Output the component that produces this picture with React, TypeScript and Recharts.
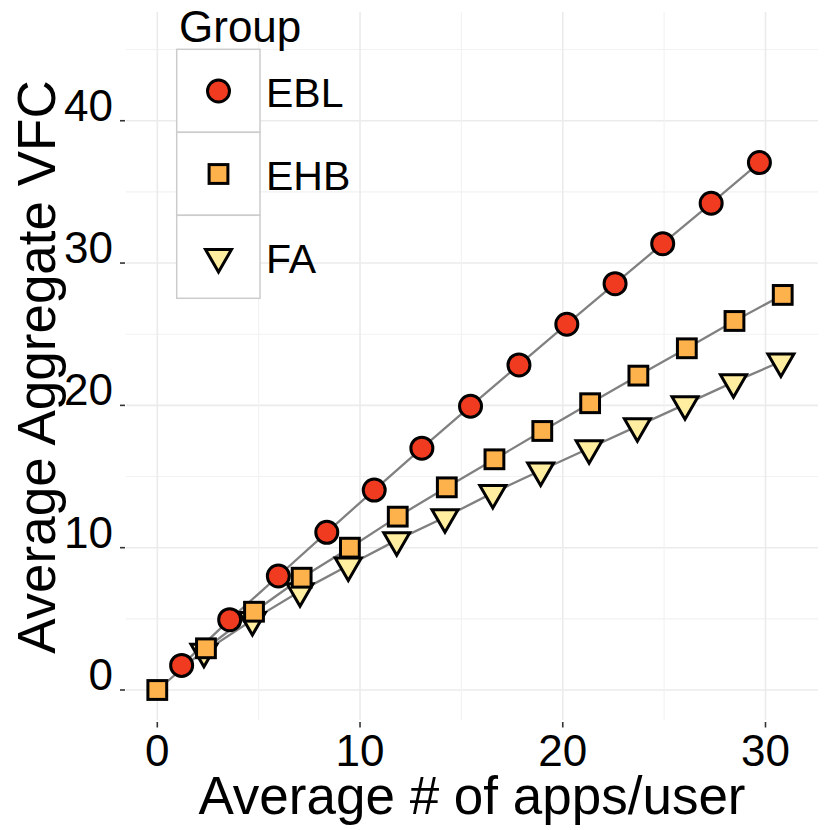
import React from "react";
import {
  ScatterChart,
  Scatter,
  XAxis,
  YAxis,
  CartesianGrid,
  Legend,
} from "recharts";

// data
const groups = ["EBL", "EHB", "FA"];
const fills = ["#F03B20", "#FEB24C", "#FFEDA0"];

const eblX = [1.2, 3.57, 5.97, 8.36, 10.7, 13.05, 15.45, 17.84, 20.2, 22.58, 24.93, 27.32, 29.7];
const eblY = [1.73, 4.94, 8.01, 11.08, 14.05, 16.99, 19.94, 22.84, 25.7, 28.55, 31.36, 34.2, 37.06];

const ehbX = [0, 2.4, 4.77, 7.12, 9.5, 11.86, 14.28, 16.63, 18.99, 21.35, 23.73, 26.12, 28.47, 30.85];
const ehbY = [0, 2.93, 5.5, 7.89, 10.0, 12.18, 14.24, 16.21, 18.2, 20.15, 22.09, 24.01, 25.93, 27.76];

const faX = [2.3, 4.69, 7.04, 9.42, 11.81, 14.19, 16.55, 18.91, 21.3, 23.68, 26.03, 28.42, 30.76];
const faY = [2.68, 4.92, 6.93, 8.75, 10.53, 12.14, 13.85, 15.42, 16.99, 18.54, 20.07, 21.63, 23.08];

const xTicks = [0, 5, 10, 15, 20, 25, 30];
const yTicks = [0, 5, 10, 15, 20, 25, 30, 35, 40, 45];
const xDomain = [-1.544, 32.59];
const yDomain = [-2.108, 47.64];

const toPoints = (xs: number[], ys: number[]) => xs.map((x, i) => ({ x, y: ys[i] }));
const ebl = toPoints(eblX, eblY);
const ehb = toPoints(ehbX, ehbY);
const fa = toPoints(faX, faY);

const FONT = "'Liberation Sans', Arial, sans-serif";
const LINE = "#808080";

const Circle = ({ cx, cy, fill }: any) => (
  <circle cx={cx} cy={cy} r={11} fill={fill} stroke="#000" strokeWidth={3} />
);
const Square = ({ cx, cy, fill }: any) => (
  <rect x={cx - 9.4} y={cy - 9.4} width={18.8} height={18.8} fill={fill} stroke="#000" strokeWidth={3} />
);
const Triangle = ({ cx, cy, fill }: any) => {
  const w = 26;
  const h = 22.5;
  const d = `M${cx - w / 2},${cy - h / 3}L${cx + w / 2},${cy - h / 3}L${cx},${cy + (2 * h) / 3}Z`;
  return <path d={d} fill={fill} stroke="#000" strokeWidth={3} strokeLinejoin="miter" />;
};
const shapes = [Circle, Square, Triangle];

const Nothing = () => <g />;

// grid line style: majors at multiples of 10, minors at 5s, nothing on the panel edges
const gridLine = (props: any) => {
  const { x1, y1, x2, y2, x, y, width, height } = props;
  const isHorizontal = y1 === y2;
  const v = isHorizontal
    ? yDomain[1] - ((y1 - y) / height) * (yDomain[1] - yDomain[0])
    : xDomain[0] + ((x1 - x) / width) * (xDomain[1] - xDomain[0]);
  const r = Math.round(v);
  if (Math.abs(v - r) > 0.2 || r % 5 !== 0) return <g key={props.key} />;
  const major = r % 10 === 0;
  return (
    <line
      key={props.key}
      x1={x1}
      y1={y1}
      x2={x2}
      y2={y2}
      stroke={major ? "#ebebeb" : "#f2f2f2"}
      strokeWidth={major ? 1.6 : 1.1}
    />
  );
};

const XTick = ({ x, y, payload }: any) => {
  if (payload.value % 10 !== 0) return <g />;
  return (
    <g>
      <line x1={x} y1={y + 2} x2={x} y2={y + 7.5} stroke="#333" strokeWidth={1.6} />
      <text x={x} y={y + 46} textAnchor="middle" fontSize={44} fontFamily={FONT} fill="#000">
        {payload.value}
      </text>
    </g>
  );
};

const YTick = ({ x, y, payload }: any) => {
  if (payload.value % 10 !== 0) return <g />;
  return (
    <g>
      <line x1={x - 6} y1={y} x2={x - 1} y2={y} stroke="#333" strokeWidth={1.6} />
      <text x={x - 13} y={y} textAnchor="end" fontSize={44} fontFamily={FONT} fill="#000">
        {payload.value}
      </text>
    </g>
  );
};

const XTitle = ({ viewBox }: any) => (
  <text
    x={viewBox.x + viewBox.width / 2}
    y={viewBox.y + viewBox.height - 16}
    textAnchor="middle"
    fontSize={53}
    fontFamily={FONT}
    fill="#000"
  >
    Average # of apps/user
  </text>
);

const YTitle = ({ viewBox }: any) => {
  const x = viewBox.x + 55;
  const y = viewBox.y + viewBox.height / 2 + 1;
  return (
    <text
      x={x}
      y={y}
      transform={`rotate(-90, ${x}, ${y})`}
      textAnchor="middle"
      fontSize={53}
      fontFamily={FONT}
      fill="#000"
    >
      Average Aggregate VFC
    </text>
  );
};

const GroupLegend = () => (
  <svg width={360} height={310} style={{ display: "block" }}>
    <text x={179} y={42} fontSize={44} fontFamily={FONT} fill="#000">
      Group
    </text>
    {groups.map((g, i) => {
      const Shape = shapes[i];
      const top = 49.3 + 83 * i;
      return (
        <g key={g}>
          <rect x={176.7} y={top} width={83.3} height={83} fill="#fff" stroke="#cccccc" strokeWidth={1.5} />
          <Shape cx={218.5} cy={top + 41.7} fill={fills[i]} />
          <text x={266} y={top + 57.7} fontSize={41} fontFamily={FONT} fill="#000">
            {g}
          </text>
        </g>
      );
    })}
  </svg>
);

export default function App() {
  return (
    <div style={{ position: "absolute", left: 0, top: 0, width: 830, height: 830, background: "#fff" }}>
      <ScatterChart width={830} height={830} margin={{ top: 12, right: 12, bottom: 0, left: 0 }}>
        <CartesianGrid horizontal={gridLine} vertical={gridLine} />
        <XAxis
          type="number"
          dataKey="x"
          domain={xDomain}
          allowDataOverflow
          ticks={xTicks}
          interval={0}
          height={110}
          axisLine={false}
          tickLine={false}
          tickSize={0}
          tickMargin={0}
          tick={<XTick />}
          label={{ content: <XTitle /> }}
        />
        <YAxis
          type="number"
          dataKey="y"
          domain={yDomain}
          allowDataOverflow
          ticks={yTicks}
          interval={0}
          width={126}
          axisLine={false}
          tickLine={false}
          tickSize={0}
          tickMargin={0}
          tick={<YTick />}
          label={{ content: <YTitle /> }}
        />
        <Legend
          layout="vertical"
          align="center"
          verticalAlign="middle"
          content={<GroupLegend />}
          wrapperStyle={{ position: "absolute", left: 0, top: 0, width: 360, height: 310 }}
        />
        {[ebl, ehb, fa].map((d, i) => (
          <Scatter
            key={`line-${groups[i]}`}
            data={d}
            line={{ stroke: LINE, strokeWidth: 2.3 }}
            shape={<Nothing />}
            legendType="none"
            isAnimationActive={false}
          />
        ))}
        <Scatter name="FA" data={fa} fill={fills[2]} shape={<Triangle />} isAnimationActive={false} />
        <Scatter name="EHB" data={ehb} fill={fills[1]} shape={<Square />} isAnimationActive={false} />
        <Scatter name="EBL" data={ebl} fill={fills[0]} shape={<Circle />} isAnimationActive={false} />
      </ScatterChart>
    </div>
  );
}
